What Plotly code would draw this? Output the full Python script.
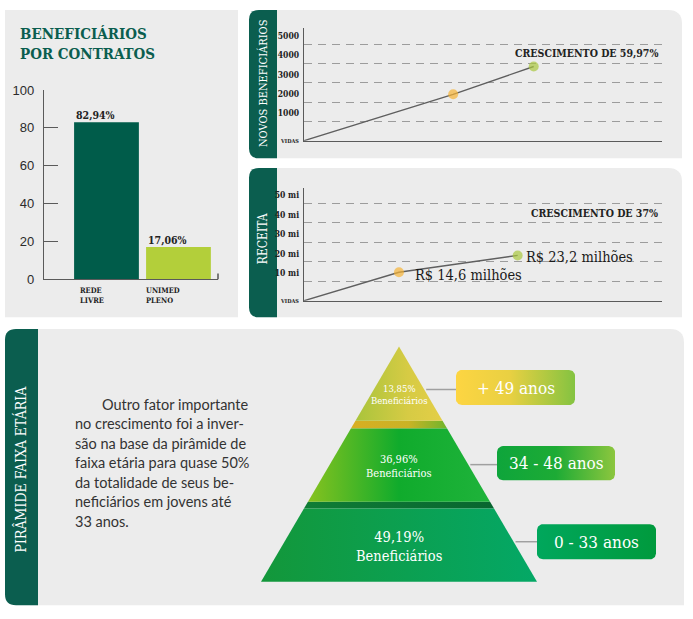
import numpy as np
import plotly.graph_objects as go

W, H = 693, 619

# beneficiários por contrato
contrato_cats = ["REDE<br>LIVRE", "UNIMED<br>PLENO"]
contrato_pct = [82.94, 17.06]
contrato_lbl = ["82,94%", "17,06%"]

# novos beneficiários (vidas)
novos_x = [0, 1.0, 1.54]
novos_vals = [0, 2400, 3840]
novos_ticks = [1000, 2000, 3000, 4000, 5000]
novos_ticktext = ["1000", "2000", "3000", "4000", "5000"]

# receita (R$ milhões)
receita_x = [0, 1.0, 2.25]
receita_vals = [0, 14.6, 23.2]
receita_lbl = ["", "R$ 14,6 milhões", "R$ 23,2 milhões"]
receita_ticks = [10, 20, 30, 40, 50]
receita_ticktext = ["10 mi", "20 mi", "30 mi", "40 mi", "50 mi"]

# pirâmide faixa etária (topo -> base)
faixas = ["+ 49 anos", "34 - 48 anos", "0 - 33 anos"]
faixa_pct = ["13,85%", "36,96%", "49,19%"]

texto = [
    "Outro fator importante",
    "no crescimento foi a inver-",
    "são na base da pirâmide de",
    "faixa etária para quase 50%",
    "da totalidade de seus be-",
    "neficiários em jovens até",
    "33 anos.",
]

GREEN = "#0b5e4f"
GRAY = "#ececec"
SERIF_C = "DejaVu Serif Condensed, DejaVu Serif"


def X(x):
    return x / W


def Y(y):
    return 1 - y / H


def rrect(x0, y0, x1, y1, tl=0, tr=0, br=0, bl=0):
    p = lambda x, y: f"{X(x):.5f},{Y(y):.5f}"
    return (f"M {p(x0 + tl, y0)} L {p(x1 - tr, y0)} Q {p(x1, y0)} {p(x1, y0 + tr)} "
            f"L {p(x1, y1 - br)} Q {p(x1, y1)} {p(x1 - br, y1)} "
            f"L {p(x0 + bl, y1)} Q {p(x0, y1)} {p(x0, y1 - bl)} "
            f"L {p(x0, y0 + tl)} Q {p(x0, y0)} {p(x0 + tl, y0)} Z")


def rounded_poly(x0, y0, x1, y1, r, n=10):
    xs, ys = [], []
    for cx, cy, a0 in [(x1 - r, y0 + r, -90), (x1 - r, y1 - r, 0),
                       (x0 + r, y1 - r, 90), (x0 + r, y0 + r, 180)]:
        a = np.radians(np.linspace(a0, a0 + 90, n))
        xs += list(cx + r * np.cos(a))
        ys += list(cy + r * np.sin(a))
    return xs + [xs[0]], ys + [ys[0]]


fig = go.Figure()

# ---------- panels
shapes = [
    dict(type="rect", xref="paper", yref="paper", x0=X(5), x1=X(238), y0=Y(318), y1=Y(3),
         fillcolor=GRAY, line_width=0, layer="below"),
    dict(type="path", path=rrect(270, 3, 682, 155, tr=14), xref="paper", yref="paper",
         fillcolor=GRAY, line_width=0, layer="below"),
    dict(type="path", path=rrect(249, 3, 277, 155, tl=10, bl=10), xref="paper", yref="paper",
         fillcolor=GREEN, line_width=0, layer="below"),
    dict(type="path", path=rrect(270, 165, 682, 318, tr=14), xref="paper", yref="paper",
         fillcolor=GRAY, line_width=0, layer="below"),
    dict(type="path", path=rrect(249, 165, 277, 318, tl=10, bl=10), xref="paper", yref="paper",
         fillcolor=GREEN, line_width=0, layer="below"),
    dict(type="path", path=rrect(30, 330, 684, 613, tr=14), xref="paper", yref="paper",
         fillcolor=GRAY, line_width=0, layer="below"),
    dict(type="path", path=rrect(5, 330, 38, 613, tl=11, bl=11), xref="paper", yref="paper",
         fillcolor=GREEN, line_width=0, layer="below"),
    # small end tick of the bar chart baseline
    dict(type="line", xref="paper", yref="paper", x0=X(218), x1=X(218), y0=Y(279), y1=Y(273),
         line=dict(color="#555", width=1.5)),
]

# ---------- bar chart
fig.add_trace(go.Bar(x=contrato_cats, y=contrato_pct, width=0.9,
                     marker=dict(color=["#005c4a", "#b3cf3a"], line_width=0),
                     xaxis="x", yaxis="y", hoverinfo="skip"))

# ---------- novos beneficiários
fig.add_trace(go.Scatter(x=novos_x, y=novos_vals, mode="lines+markers",
                         line=dict(color="#5f5f5f", width=1.4),
                         marker=dict(size=[0, 10, 10], color=["#5f5f5f", "#f6b436", "#a9c83f"], line_width=0),
                         xaxis="x2", yaxis="y2", hoverinfo="skip"))

# ---------- receita
fig.add_trace(go.Scatter(x=receita_x, y=receita_vals, mode="lines+markers",
                         line=dict(color="#5f5f5f", width=1.4),
                         marker=dict(size=[0, 10, 10], color=["#5f5f5f", "#f6b436", "#a9c83f"], line_width=0),
                         xaxis="x3", yaxis="y3", hoverinfo="skip"))

# ---------- pirâmide (pixel coordinates on a hidden overlay axis)
apex_x, apex_y, base_y, base_half = 399, 348, 589, 138
tiers = [(348, 424), (432, 507), (514, 589)]
tier_colors = [
    [[0, "#a9c43c"], [0.6, "#d6cb44"], [1, "#e4ce47"]],
    [[0, "#86c21f"], [0.5, "#10ab2c"], [1, "#1fb33b"]],
    [[0, "#13973a"], [1, "#04a866"]],
]
gap_colors = [
    [[0, "#d8ae22"], [0.6, "#c9b326"], [1, "#6fb52c"]],
    [[0, "#0f7d36"], [1, "#08652f"]],
]
text_sizes = [9.5, 11, 14.5]
box_rects = [(456, 372, 575, 408), (497, 450, 615, 485), (537, 530, 656, 566)]
box_colors = [
    [[0, "#fdd542"], [0.45, "#e9d042"], [1, "#84c341"]],
    [[0, "#0ea53b"], [0.5, "#1dab35"], [1, "#8cc63e"]],
    [[0, "#00a75c"], [1, "#009a3d"]],
]
conn_y = [392, 469, 548]


def half(y):
    return base_half * (y - apex_y) / (base_y - apex_y)


def trap(y0, y1):
    return ([apex_x - half(y0), apex_x + half(y0), apex_x + half(y1), apex_x - half(y1), apex_x - half(y0)],
            [y0, y0, y1, y1, y0])


pyr_kw = dict(xaxis="x4", yaxis="y4", mode="lines", fill="toself", line_width=0, hoverinfo="skip")
for i in range(2):
    gx, gy = trap(tiers[i][1], tiers[i + 1][0])
    fig.add_trace(go.Scatter(x=gx, y=gy, fillgradient=dict(type="horizontal", colorscale=gap_colors[i]), **pyr_kw))
for i, (y0, y1) in enumerate(tiers):
    tx, ty = trap(y0, y1)
    fig.add_trace(go.Scatter(x=tx, y=ty, fillgradient=dict(type="horizontal", colorscale=tier_colors[i]), **pyr_kw))

for i, (bx0, by0, bx1, by1) in enumerate(box_rects):
    fig.add_trace(go.Scatter(x=[apex_x + half(conn_y[i]) + 2, bx0], y=[conn_y[i]] * 2, mode="lines",
                             line=dict(color="#a0a0a0", width=1.5), xaxis="x4", yaxis="y4", hoverinfo="skip"))
    rx, ry = rounded_poly(bx0, by0, bx1, by1, 6)
    fig.add_trace(go.Scatter(x=rx, y=ry, fillgradient=dict(type="horizontal", colorscale=box_colors[i]), **pyr_kw))

# ---------- annotations
ann = []
ann.append(dict(xref="paper", yref="paper", x=X(18), y=Y(16), xanchor="left", yanchor="top", align="left",
                text="<b>BENEFICIÁRIOS<br>POR CONTRATOS</b>", showarrow=False,
                font=dict(family=SERIF_C, size=15, color=GREEN)))
for c, v, t in zip(contrato_cats, contrato_pct, contrato_lbl):
    ann.append(dict(xref="x", yref="y", x=c, y=v, xanchor="left", yanchor="bottom", xshift=-32, yshift=-1,
                    text=f"<b>{t}</b>", showarrow=False, font=dict(family=SERIF_C, size=10.5, color="#222")))
for c, s in zip(contrato_cats, [-28, -34]):
    ann.append(dict(xref="x", yref="y", x=c, y=0, xanchor="left", yanchor="top", xshift=s, yshift=-5,
                    align="left", text=f"<b>{c}</b>", showarrow=False,
                    font=dict(family=SERIF_C, size=7.5, color="#222")))

ann.append(dict(xref="paper", yref="paper", x=X(263), y=Y(78), xanchor="center", yanchor="middle",
                textangle=-90, showarrow=False,
                text="NOVOS BENEFICIÁRIOS", font=dict(family=SERIF_C, size=11, color="white")))
ann.append(dict(xref="paper", yref="paper", x=X(263), y=Y(238), xanchor="center", yanchor="middle",
                textangle=-90, showarrow=False,
                text="RECEITA", font=dict(family=SERIF_C, size=12, color="white")))
ann.append(dict(xref="paper", yref="paper", x=X(21), y=Y(474), xanchor="center", yanchor="middle",
                textangle=-90, showarrow=False,
                text="PIRÂMIDE FAIXA ETÁRIA", font=dict(family=SERIF_C, size=14, color="white")))

for ya in ["y2", "y3"]:
    ann.append(dict(xref="paper", yref=ya, x=X(301), y=0, xanchor="right", yanchor="middle", showarrow=False,
                    text="<b>VIDAS</b>", font=dict(family=SERIF_C, size=5.5, color="#222")))

ann.append(dict(xref="x2 domain", yref="y2", x=0.994, y=novos_vals[2], xanchor="right", yanchor="middle",
                yshift=13, showarrow=False, text="<b>CRESCIMENTO DE 59,97%</b>",
                font=dict(family=SERIF_C, size=10.5, color="#222")))
ann.append(dict(xref="x3 domain", yref="y3 domain", x=0.994, y=0.776, xanchor="right", yanchor="middle",
                showarrow=False, text="<b>CRESCIMENTO DE 37%</b>",
                font=dict(family=SERIF_C, size=10.5, color="#222")))
for x, v, t, s in zip(receita_x[1:], receita_vals[1:], receita_lbl[1:], [(14, -3), (6, -2)]):
    ann.append(dict(xref="x3", yref="y3", x=x, y=v, xanchor="left", yanchor="middle", xshift=s[0], yshift=s[1],
                    showarrow=False, text=t, font=dict(family=SERIF_C, size=14.5, color="#1a1a1a")))

for i, line in enumerate(texto):
    ann.append(dict(xref="paper", yref="paper", x=X(251) if i == 0 else X(73), y=Y(407 + 20 * i),
                    xanchor="right" if i == 0 else "left", yanchor="middle", showarrow=False, text=line,
                    font=dict(family="Lato", size=14.5, color="#333")))

for i, (y0, y1) in enumerate(tiers):
    cy = [397, 471, 553][i]
    ann.append(dict(xref="x4", yref="y4", x=apex_x, y=cy, showarrow=False,
                    text=f"{faixa_pct[i]}<br>Beneficiários",
                    font=dict(family=SERIF_C, size=text_sizes[i], color="white")))
for (bx0, by0, bx1, by1), t in zip(box_rects, faixas):
    ann.append(dict(xref="x4", yref="y4", x=(bx0 + bx1) / 2, y=(by0 + by1) / 2, showarrow=False, text=t,
                    font=dict(family=SERIF_C, size=17, color="white")))

axis_line = dict(showline=True, linecolor="#5a5a5a", linewidth=1.4, zeroline=False, fixedrange=True)

fig.update_layout(
    width=W, height=H, margin=dict(l=0, r=0, t=0, b=0),
    paper_bgcolor="white", plot_bgcolor="rgba(0,0,0,0)", showlegend=False,
    shapes=shapes, annotations=ann,
    xaxis=dict(domain=[X(44), X(218)], range=[-0.868, 1.549], showticklabels=False, ticks="",
               showgrid=False, anchor="y", **axis_line),
    yaxis=dict(domain=[Y(279), Y(85)], range=[0, 100], tickvals=[0, 20, 40, 60, 80, 100],
               ticks="inside", ticklen=14, tickcolor="#5a5a5a", tickwidth=1.4, showgrid=False,
               ticklabelstandoff=6, tickfont=dict(family="Liberation Sans", size=13, color="#2b2b2b"),
               anchor="x", **axis_line),
    xaxis2=dict(domain=[X(304), X(662)], range=[0, 2.40], showticklabels=False, ticks="", showgrid=False,
                anchor="y2", **axis_line),
    yaxis2=dict(domain=[Y(137), Y(22)], range=[0, 5808], tickvals=novos_ticks, ticktext=novos_ticktext,
                ticks="", showgrid=True, gridcolor="#9c9c9c", gridwidth=1, griddash="8px,6px",
                ticklabelshift=-8, ticklabelstandoff=2,
                tickfont=dict(family=SERIF_C, size=8.5, color="#222", weight="bold"), anchor="x2", **axis_line),
    xaxis3=dict(domain=[X(304), X(662)], range=[0, 3.77], showticklabels=False, ticks="", showgrid=False,
                anchor="y3", **axis_line),
    yaxis3=dict(domain=[Y(301), Y(185)], range=[0, 58], tickvals=receita_ticks, ticktext=receita_ticktext,
                ticks="", showgrid=True, gridcolor="#9c9c9c", gridwidth=1, griddash="8px,6px",
                ticklabelshift=-8, ticklabelstandoff=2,
                tickfont=dict(family=SERIF_C, size=8.5, color="#222", weight="bold"), anchor="x3", **axis_line),
    xaxis4=dict(domain=[0, 1], range=[0, W], visible=False, fixedrange=True, anchor="y4"),
    yaxis4=dict(domain=[0, 1], range=[H, 0], visible=False, fixedrange=True, anchor="x4"),
)

fig.write_html("out.html", config={"displayModeBar": False},
               post_script="document.body.style.margin='0';document.body.style.overflow='hidden';")
